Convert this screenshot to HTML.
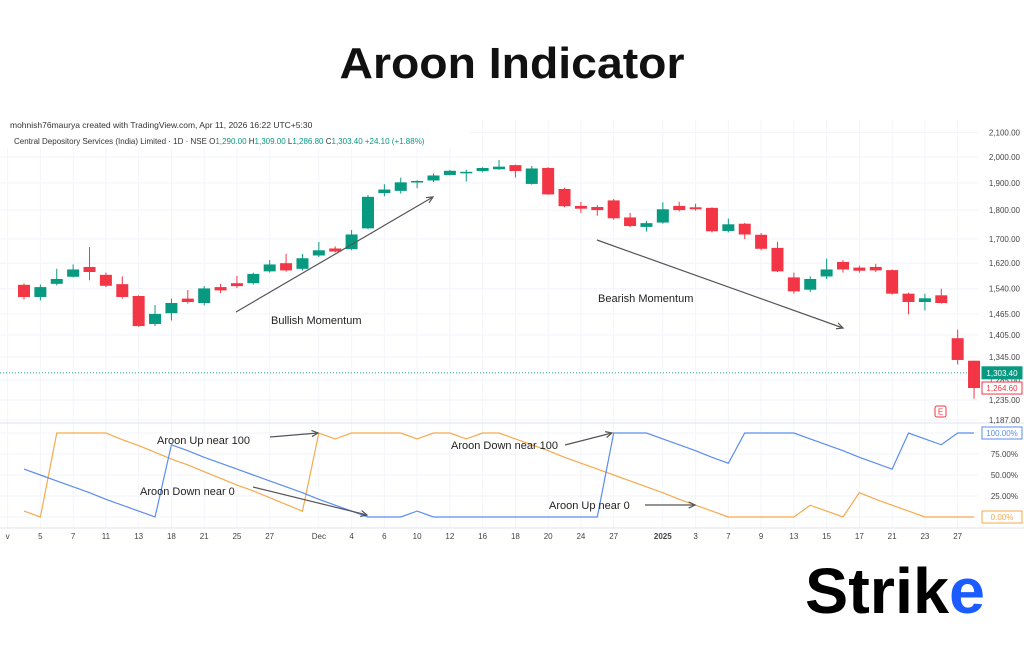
<!DOCTYPE html>
<html><head><meta charset="utf-8"><style>
body{margin:0;width:1024px;height:640px;background:#fff;overflow:hidden;font-family:"Liberation Sans",sans-serif}
svg text{font-family:"Liberation Sans",sans-serif}
</style></head><body>
<svg id="c" width="1024" height="640">
<text x="512" y="78" text-anchor="middle" font-size="44" font-weight="bold" fill="#111" textLength="345" lengthAdjust="spacingAndGlyphs">Aroon Indicator</text>
<g id="grid"></g>
<rect x="0" y="118" width="470" height="30" fill="#fff"/>
<text x="10" y="128" font-size="8.5" fill="#333">mohnish76maurya created with TradingView.com, Apr 11, 2026 16:22 UTC+5:30</text>
<text x="14" y="144" font-size="8" fill="#333">Central Depository Services (India) Limited · 1D · NSE  O<tspan fill="#089981">1,290.00</tspan> H<tspan fill="#089981">1,309.00</tspan> L<tspan fill="#089981">1,286.80</tspan> C<tspan fill="#089981">1,303.40</tspan> <tspan fill="#089981">+24.10 (+1.88%)</tspan></text>
<g id="marks"></g>
<g id="ann" font-size="11" fill="#222"></g>
<text x="805" y="613" font-size="64" font-weight="bold" fill="#000" textLength="180" lengthAdjust="spacingAndGlyphs">Strik<tspan fill="#1a5cff">e</tspan></text>
</svg>
<script>
const NS='http://www.w3.org/2000/svg';
const opens=[1552,1515,1555,1577,1608,1583,1554,1518,1436,1467,1510,1497,1545,1557,1557,1594,1620,1602,1645,1668,1666,1736,1862,1870,1903,1909,1930,1938,1945,1952,1968,1896,1957,1877,1815,1811,1835,1774,1741,1756,1815,1810,1808,1727,1752,1714,1670,1575,1537,1578,1624,1606,1608,1598,1525,1500,1520,1396,1335];
const closes=[1515,1545,1570,1600,1592,1549,1515,1430,1465,1497,1500,1541,1535,1548,1586,1616,1597,1636,1662,1658,1715,1848,1875,1902,1907,1928,1946,1942,1957,1962,1945,1955,1857,1814,1805,1800,1771,1744,1754,1803,1800,1803,1726,1750,1715,1667,1594,1532,1570,1600,1600,1596,1597,1525,1500,1511,1497,1337,1264.6];
const highs=[1556,1553,1602,1616,1673,1590,1578,1520,1491,1510,1536,1548,1555,1580,1590,1630,1650,1650,1690,1675,1730,1855,1895,1920,1910,1935,1950,1950,1960,1988,1970,1965,1960,1882,1830,1818,1840,1790,1762,1828,1830,1823,1810,1770,1755,1720,1690,1590,1578,1635,1630,1612,1618,1600,1528,1525,1540,1420,1335];
const lows=[1507,1505,1550,1575,1566,1545,1510,1428,1430,1446,1495,1490,1527,1542,1553,1590,1593,1597,1640,1655,1662,1733,1850,1860,1880,1903,1928,1905,1940,1950,1920,1893,1855,1810,1790,1780,1766,1740,1725,1752,1795,1798,1722,1722,1700,1662,1592,1525,1530,1570,1590,1590,1592,1522,1464,1475,1495,1325,1238];
const aroonUp=[7,0,100,100,100,100,92,85,77,69,62,54,46,38,31,23,15,7,100,93,100,100,100,100,93,100,100,93,100,100,93,86,79,71,64,57,50,43,36,29,21,14,7,0,0,0,0,0,14,7,0,29,21,14,7,0,0,0,0];
const aroonDown=[57,50,43,36,29,21,14,7,0,86,79,71,64,57,50,43,36,29,21,14,7,0,0,0,7,0,0,0,0,0,0,0,0,0,0,0,100,100,100,93,86,79,71,64,100,100,100,100,93,86,79,71,64,57,100,93,86,100,100];
const priceTicks=[2100,2000,1900,1800,1700,1620,1540,1465,1405,1345,1285,1235,1187];
const pctTicks=[75,50,25];
const dateLabels=['v','5','7','11','13','18','21','25','27','Dec','4','6','10','12','16','18','20','24','27','2025','3','7','9','13','15','17','21','23','27'];
const dateIdx=[-1,1,3,5,7,9,11,13,15,18,20,22,24,26,28,30,32,34,36,39,41,43,45,47,49,51,53,55,57];

const X=i=>24+i*16.38;
const PY=p=>157+(Math.log(2000)-Math.log(p))*504;
const AY=v=>517-v*0.84;
const svg=document.getElementById('c'),G=document.getElementById('grid'),M=document.getElementById('marks');
function mk(tag,at,par){const e=document.createElementNS(NS,tag);for(const k in at)e.setAttribute(k,at[k]);(par||svg).appendChild(e);return e;}

priceTicks.forEach(p=>{mk('line',{x1:0,x2:978,y1:PY(p),y2:PY(p),stroke:'#f0f3fa'},G);
 const t=mk('text',{x:1020,y:PY(p)+3,'font-size':8,fill:'#444','text-anchor':'end'});t.textContent=p.toLocaleString('en-US',{minimumFractionDigits:2});
 
 });
[100,75,50,25,0].forEach(v=>mk('line',{x1:0,x2:978,y1:AY(v),y2:AY(v),stroke:'#f0f3fa'},G));
pctTicks.forEach(v=>{const t=mk('text',{x:1018,y:AY(v)+3,'font-size':8,fill:'#444','text-anchor':'end'});t.textContent=v.toFixed(2)+'%';
 
 });
dateIdx.forEach((ix,k)=>{mk('line',{x1:X(ix),x2:X(ix),y1:120,y2:528,stroke:'#f3f5fa'},G);
 const t=mk('text',{x:X(ix),y:539,'font-size':8,fill:'#444','text-anchor':'middle','font-weight':dateLabels[k]==='2025'?'bold':'normal'});t.textContent=dateLabels[k];
 
 });
mk('line',{x1:0,x2:1024,y1:423,y2:423,stroke:'#e0e3eb'},G);
mk('line',{x1:0,x2:1024,y1:528,y2:528,stroke:'#e0e3eb'},G);
mk('line',{x1:0,x2:978,y1:PY(1303.4),y2:PY(1303.4),stroke:'#089981','stroke-dasharray':'1 2','stroke-width':0.8},G);

opens.forEach((o,i)=>{const c=closes[i],up=c>=o,col=up?'#089981':'#f23645';
 const g=mk('g',{},M);
 
 
 mk('line',{x1:X(i),x2:X(i),y1:PY(highs[i]),y2:PY(lows[i]),stroke:col,'stroke-width':1},g);
 const t=PY(Math.max(o,c)),b=PY(Math.min(o,c));
 mk('rect',{x:X(i)-6,y:t,width:12,height:Math.max(1.5,b-t),fill:col},g);});

function line(arr,col,name){const p=mk('polyline',{points:arr.map((v,i)=>X(i)+','+AY(v)).join(' '),fill:'none',stroke:col,'stroke-width':1.2},M);
 
 }
line(aroonUp,'#f7a94d','aroon-up-line');
line(aroonDown,'#5b8def','aroon-down-line');

function tag(y,txt,fill,stroke,tc,name){const g=mk('g',{});
 
 
 mk('rect',{x:982,y:y-6,width:40,height:12,fill:fill,stroke:stroke},g);
 const t=mk('text',{x:1002,y:y+3,'font-size':8,fill:tc,'text-anchor':'middle'},g);t.textContent=txt;}
tag(PY(1303.4),'1,303.40','#089981','#089981','#fff','last-price-tag');
tag(PY(1264.6),'1,264.60','#fff','#f23645','#f23645','close-price-tag');
tag(AY(100),'100.00%','#fff','#5b8def','#5b8def','aroon-down-tag');
tag(AY(0),'0.00%','#fff','#f7a94d','#f7a94d','aroon-up-tag');
mk('rect',{x:935,y:406,width:11,height:11,rx:2,fill:'#fff',stroke:'#f23645'});
const e=mk('text',{x:940.5,y:414.5,'font-size':8,fill:'#f23645','text-anchor':'middle'});e.textContent='E';

const A=document.getElementById('ann');
function arrow(x1,y1,x2,y2){mk('line',{x1,y1,x2,y2,stroke:'#555','stroke-width':1.2},A);
 const a=Math.atan2(y2-y1,x2-x1),l=7;
 mk('polyline',{points:`${x2-l*Math.cos(a-0.45)},${y2-l*Math.sin(a-0.45)} ${x2},${y2} ${x2-l*Math.cos(a+0.45)},${y2-l*Math.sin(a+0.45)}`,fill:'none',stroke:'#555','stroke-width':1.2},A);}
function label(x,y,s,n){const t=mk('text',{x,y,'font-size':11},A);t.textContent=s;
 
 }
arrow(236,312,433,197);label(271,324,'Bullish Momentum','bullish-label');
arrow(597,240,843,328);label(598,302,'Bearish Momentum','bearish-label');
arrow(270,437,318,433);label(157,444,'Aroon Up near 100','aroon-up-100-label');
arrow(253,487,367,515);label(140,495,'Aroon Down near 0','aroon-down-0-label');
arrow(565,445,612,433);label(451,449,'Aroon Down near 100','aroon-down-100-label');
arrow(645,505,695,505);label(549,509,'Aroon Up near 0','aroon-up-0-label');
</script>
</body></html>
